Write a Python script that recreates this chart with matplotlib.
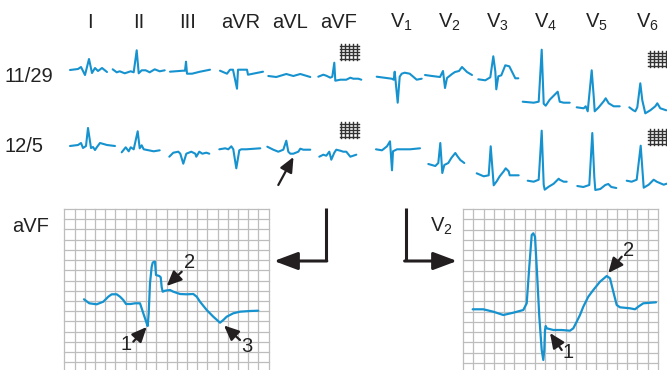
import matplotlib
matplotlib.use("Agg")
import matplotlib.pyplot as plt
import numpy as np

plt.rcParams['font.family'] = ['Liberation Sans', 'DejaVu Sans']
plt.rcParams['mathtext.fontset'] = 'custom'
plt.rcParams['mathtext.rm'] = 'Liberation Sans'
plt.rcParams['mathtext.it'] = 'Liberation Sans'
plt.rcParams['mathtext.default'] = 'regular'

# ---------------- data ----------------
LEAD_LABELS = ["I", "II", "III", "aVR", "aVL", "aVF",
               "V$_1$", "V$_2$", "V$_3$", "V$_4$", "V$_5$", "V$_6$"]
DATE_LABELS = ["11/29", "12/5"]
PANEL_LABELS = ["aVF", "V$_2$"]
CALLOUTS_AVF = ["1", "2", "3"]
CALLOUTS_V2 = ["1", "2"]

# waveforms as (time offset, amplitude) pairs, in pixels of the original tracing
R1_I = [(0, 0), (8, 1), (11, 3), (15, -5), (19, 11), (22, -3), (25, 2), (28, -1), (32, 2), (37, -2)]
R1_II = [(0, 0), (4, -3), (7, -2), (12, -4), (18, -2), (21, -3), (24, 19), (26, -4), (29, -1),
         (33, -1), (37, -3), (42, 0), (47, -2), (52, -1)]
R1_III = [(0, 0), (13, 1), (15, 1), (16, 10), (17, -2), (22, -2), (30, 0), (40, 2)]
R1_AVR = [(0, 0), (7, -3), (10, 1), (13, 1), (17, -18), (18, 1), (27, 1), (28, -4), (33, -3), (43, -1)]
R1_AVL = [(0, 0), (8, -1), (18, 2), (25, 0), (32, 2), (42, -1)]
R1_AVF = [(0, 0), (5, 2), (8, 1), (12, -1), (14, 0), (16, 14), (17, -4), (22, -3), (28, -3),
          (32, -1), (35, -2), (40, -2), (43, -3)]
R1_V1 = [(0, 0), (15, -2), (17, -3), (18, 5), (21, -26), (23, 0), (25, 3), (28, 4), (33, 3), (40, -3), (45, -2)]
R1_V2 = [(0, 0), (7, -1), (15, -2), (18, 4), (20, -13), (22, -3), (27, 1), (30, 3), (34, 4), (37, 8), (42, 3), (47, 0)]
R1_V3 = [(0, 0), (7, -1), (12, 2), (15, 23), (17, 8), (18, -10), (20, 3), (23, 4), (27, 14), (31, 13),
         (34, 7), (37, 1), (40, 1)]
R1_V4 = [(0, 0), (11, -1), (16, 0), (19, 52), (21, -2), (23, -4), (27, 2), (32, 7), (35, 10), (37, 0), (41, -1), (47, -1)]
R1_V5 = [(0, 0), (7, -1), (9, 1), (11, -4), (15, 37), (17, 11), (18, -4), (22, 0), (27, 6), (29, 9), (32, 4),
         (37, 1), (43, 1)]
R1_V6 = [(0, 0), (4, -3), (6, -4), (8, 0), (11, 24), (13, 7), (16, -6), (21, -3), (26, 1), (28, 4), (31, -1), (37, -3)]

R2_I = [(0, 0), (8, 1), (11, 3), (13, -2), (16, 0), (18, 18), (21, -2), (23, -1), (25, -4), (27, -1),
        (30, 3), (37, 1), (45, 0)]
R2_II = [(0, 0), (4, 5), (7, 1), (9, 5), (12, 3), (16, 21), (18, 4), (20, 7), (22, 3), (27, 2), (32, 1), (38, 2)]
R2_III = [(0, 0), (4, 4), (9, 5), (11, 3), (14, -7), (17, 3), (22, 5), (26, 3), (27, 0), (30, 5), (33, 3),
          (37, 4), (40, 3)]
R2_AVR = [(0, 0), (6, 1), (9, 0), (12, 3), (14, 0), (17, -19), (20, -1), (22, 0), (27, 0), (41, 1)]
R2_AVL = [(0, 0), (6, -3), (11, -5), (16, -3), (19, 6), (21, -5), (23, -7), (26, -7), (31, -5), (33, -2),
          (36, -3), (43, -3)]
R2_AVF = [(0, 0), (4, 2), (7, 1), (10, 5), (12, -3), (15, 4), (17, 7), (21, 6), (24, 5), (27, 5), (31, 0), (37, 2)]
R2_V1 = [(0, 0), (6, -1), (11, 3), (14, 8), (16, -21), (17, -2), (21, 0), (34, 0), (44, 1)]
R2_V2 = [(0, 0), (7, -2), (10, 1), (12, 21), (14, -9), (16, -1), (20, 1), (23, 6), (27, 11), (29, 8), (32, 4), (36, 1)]
R2_V3 = [(0, 0), (7, -3), (12, -2), (14, 27), (17, -12), (20, -8), (23, -3), (27, 2), (29, 5), (32, 2),
         (33, -2), (42, -2)]
R2_V4 = [(0, 0), (6, -1), (11, 1), (14, 50), (16, -4), (17, -9), (21, -6), (26, -3), (31, 2), (32, 1), (36, -1), (39, -1)]
R2_V5 = [(0, 0), (6, -1), (12, 1), (15, 53), (17, 9), (18, -4), (23, -3), (28, 1), (31, 2), (34, -1), (39, -2)]
R2_V6 = [(0, 0), (5, -1), (10, 1), (14, 35), (16, 7), (17, -7), (22, -4), (27, 1), (30, -1), (37, -4), (40, -3)]

BIG_AVF = [(0, 0), (5.3, -4), (12.7, -5), (19.3, -2.4), (24.3, 2.6), (27.7, 5), (32.7, 5), (36, 2.6),
           (39.3, -0.7), (42, -4.7), (46.7, -4.7), (51, -4), (56, -4), (59.3, -14), (62.7, -24), (63.7, -26.7),
           (64.7, -14), (66, 16), (67.7, 32.6), (68.7, 36.6), (70, 37.6), (71, 37.6), (72, 24.3), (75.3, 23.3),
           (76.7, 22), (77.7, 12), (78.7, 7.6), (81, 8.6), (86, 9.3), (89.3, 7.6), (96, 5.3), (102.7, 5),
           (109.3, 5.3), (112.7, 2.6), (116, -2.4), (122.7, -10.7), (129.3, -17.4), (136, -23.4),
           (139.3, -20.7), (142.7, -17.4), (149.3, -14), (156, -12.4), (166, -11.7), (174.3, -11.4)]
BIG_V2 = [(0, 0), (10.6, 0), (20.6, -2.4), (30.6, -5.7), (40.6, -3.4), (50.6, -0.7), (54, 6), (56.6, 42.6),
          (59, 74.3), (60.6, 76), (62.3, 72.6), (64, 42.6), (66.6, -7.4), (69, -40.7), (70.6, -50.7),
          (71.6, -40.7), (72.3, -20.7), (73, -16.7), (74, -19), (80.6, -20.7), (89, -20.7), (97.3, -21.4),
          (100.6, -19), (104, -12.4), (107.3, -5.7), (110.6, 2.6), (115.6, 12.6), (120.6, 19.3), (127.3, 27.6),
          (134, 33.3), (137.3, 31), (140.6, 17.6), (144, 4.3), (147.3, 2), (157.3, 1), (162.3, 0),
          (165.6, 2.6), (170.6, 6), (183.3, 7)]

ROW1 = [R1_I, R1_II, R1_III, R1_AVR, R1_AVL, R1_AVF, R1_V1, R1_V2, R1_V3, R1_V4, R1_V5, R1_V6]
ROW2 = [R2_I, R2_II, R2_III, R2_AVR, R2_AVL, R2_AVF, R2_V1, R2_V2, R2_V3, R2_V4, R2_V5, R2_V6]

# ---------------- layout ----------------
W, H = 667, 370
BLUE = '#1692cf'
DARK = '#231f20'
GRIDC = '#bdbdbd'
FS = 14.5

fig = plt.figure(figsize=(W / 100, H / 100), dpi=100)
ax = fig.add_axes([0, 0, 1, 1])
ax.set_xlim(0, W)
ax.set_ylim(H, 0)
ax.axis('off')

label_x = [90, 139, 188, 241, 290, 339, 401, 449, 497, 546, 596, 647]
for lx, lab in zip(label_x, LEAD_LABELS):
    ax.text(lx, 28, lab, fontsize=FS, ha='center', va='baseline', color='#222')

row_label_y = [77, 147]
for ry, lab in zip(row_label_y, DATE_LABELS):
    ax.text(5, ry, lab, fontsize=FS, ha='left', va='center', color='#222')

row1_origin = [(70, 70), (112.7, 69.3), (170, 71.7), (220, 70.7), (268.3, 76), (318.3, 76.7),
               (376.7, 76.7), (425, 75), (478.3, 79.3), (522.7, 101.7), (576.7, 107.3), (629.3, 107.3)]
row2_origin = [(70, 146), (121.7, 152.3), (169.3, 156.7), (219.3, 149.3), (267.3, 146.7), (319.3, 156.7),
               (376, 149.3), (428.3, 164), (476.7, 173.3), (527.7, 180.7), (577.3, 186), (626.7, 180.7)]


def draw_trace(points, origin, lw=1.5):
    arr = np.array(points, dtype=float)
    ax.plot(origin[0] + arr[:, 0], origin[1] - arr[:, 1], color=BLUE, lw=lw,
            solid_joinstyle='round', solid_capstyle='round', zorder=3)


for pts, org in zip(ROW1, row1_origin):
    draw_trace(pts, org)
for pts, org in zip(ROW2, row2_origin):
    draw_trace(pts, org)


def grid_icon(x0, y0, w=19, h=16, n=5):
    for k in range(n):
        xx = x0 + 1.5 + k * (w - 3) / (n - 1)
        ax.plot([xx, xx], [y0, y0 + h], color='#333', lw=1.0, zorder=2)
        yy = y0 + 1.5 + k * (h - 3) / (n - 1)
        ax.plot([x0, x0 + w], [yy, yy], color='#333', lw=1.0, zorder=2)


grid_icon(339.5, 44)
grid_icon(648, 51)
grid_icon(339.5, 122)
grid_icon(648, 129)

# lower panels grids
def ecg_grid(x0, ncols, step, y0, y1):
    for k in range(ncols + 1):
        xx = x0 + k * step
        ax.plot([xx, xx], [y0, y1], color=GRIDC, lw=0.9, zorder=1)
    yy = y0
    while yy <= y1:
        ax.plot([x0, x0 + ncols * step], [yy, yy], color=GRIDC, lw=0.9, zorder=1)
        yy += step


ecg_grid(64.3, 20, 10.22, 209, 372)
ecg_grid(463, 19, 10.26, 209, 372)

draw_trace(BIG_AVF, (84, 299.3), lw=1.6)
draw_trace(BIG_V2, (472.7, 309.3), lw=1.6)

ax.text(12, 232, PANEL_LABELS[0], fontsize=FS, ha='left', va='baseline', color='#222')
ax.text(430, 232, PANEL_LABELS[1], fontsize=FS, ha='left', va='baseline', color='#222')

# L-shaped arrows
ax.plot([325.7, 325.7], [208, 261], color=DARK, lw=2.2, solid_capstyle='butt', zorder=3)
ax.annotate('', xy=(274, 261), xytext=(326.8, 261),
            arrowprops=dict(arrowstyle='-|>,head_length=1.2,head_width=0.45', color=DARK, lw=2.2,
                            shrinkA=0, shrinkB=0, mutation_scale=12))
ax.plot([405.7, 405.7], [208, 261], color=DARK, lw=2.2, solid_capstyle='butt', zorder=3)
ax.annotate('', xy=(457, 261), xytext=(404.6, 261),
            arrowprops=dict(arrowstyle='-|>,head_length=1.2,head_width=0.45', color=DARK, lw=2.2,
                            shrinkA=0, shrinkB=0, mutation_scale=12))


def callout(tail, head, text=None, tpos=None):
    ax.annotate('', xy=head, xytext=tail,
                arrowprops=dict(arrowstyle='-|>,head_length=0.9,head_width=0.4', color=DARK, lw=1.6,
                                shrinkA=0, shrinkB=0, mutation_scale=10), zorder=4)
    if text is not None:
        ax.text(tpos[0], tpos[1], text, fontsize=FS, ha='center', va='center', color='#222')


callout((278.3, 185), (293.5, 157))
callout((133.3, 341.7), (146.7, 327), CALLOUTS_AVF[0], (126, 345))
callout((181.7, 271.7), (166.7, 286), CALLOUTS_AVF[1], (190, 262))
callout((240, 340), (224, 325.5), CALLOUTS_AVF[2], (247, 346))
callout((561.7, 350), (550, 333), CALLOUTS_V2[0], (568.5, 353))
callout((621.7, 256.7), (608.3, 273), CALLOUTS_V2[1], (628.5, 250))

fig.savefig('out.png', dpi=100)
